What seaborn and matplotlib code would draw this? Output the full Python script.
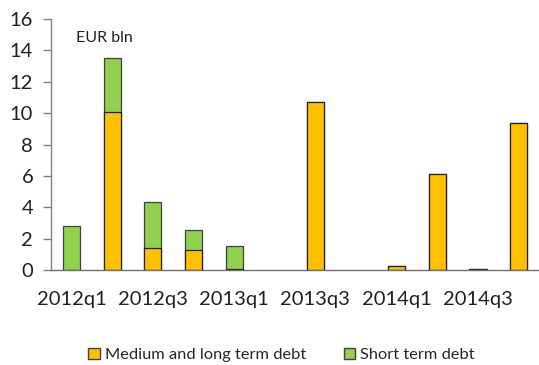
import numpy as np
import pandas as pd
import seaborn as sns
import matplotlib.pyplot as plt
from matplotlib.patches import Patch
from matplotlib.ticker import FixedLocator

# Data (EUR bln)
quarters = ["2012q1", "2012q2", "2012q3", "2012q4",
            "2013q1", "2013q2", "2013q3", "2013q4",
            "2014q1", "2014q2", "2014q3", "2014q4"]
medium_long = [0.0, 10.1, 1.38, 1.27, 0.1, 0.0, 10.7, 0.0, 0.25, 6.15, 0.1, 9.38]
short_term = [2.78, 3.4, 2.95, 1.26, 1.45, 0.0, 0.0, 0.0, 0.0, 0.0, 0.0, 0.0]

df = pd.DataFrame({"quarter": quarters, "medium": medium_long, "short": short_term})
df["total"] = df["medium"] + df["short"]
# empty quarters get no bar at all (no outline on the axis)
df[["medium", "total"]] = df[["medium", "total"]].replace(0, np.nan)

orange = "#FFC000"
green = "#92D050"

sns.set_style("white")
plt.rcParams["font.family"] = ["Lato", "DejaVu Sans"]

fig = plt.figure(figsize=(5.39, 3.65), dpi=100)
ax = fig.add_axes([0.095, 0.26, 0.905, 0.688])

# stacked bars: total (green) underneath, medium/long term (orange) on top of it
sns.barplot(data=df, x="quarter", y="total", order=quarters, color=green,
            width=0.42, edgecolor="#404040", linewidth=0.9, saturation=1, ax=ax)
sns.barplot(data=df, x="quarter", y="medium", order=quarters, color=orange,
            width=0.42, edgecolor="#202020", linewidth=0.9, saturation=1, ax=ax)

ax.set_xlim(-0.5, len(quarters) - 0.5)
ax.set_ylim(0, 16)
ax.set_yticks(range(0, 17, 2))
ax.set_xlabel("")
ax.set_ylabel("")

ax.set_xticks(range(0, len(quarters), 2))
ax.set_xticklabels(quarters[::2])
ax.xaxis.set_minor_locator(FixedLocator([i + 0.5 for i in range(len(quarters) - 1)]))
ax.tick_params(axis="x", which="major", length=0, labelsize=14.5, pad=15, colors="#202020")
ax.tick_params(axis="x", which="minor", direction="in", length=4.5, width=1, color="#202020")
ax.tick_params(axis="y", which="major", direction="out", length=6, width=1, pad=7,
               color="#808080", labelsize=14.5, labelcolor="#202020", left=True)

for s in ["top", "right"]:
    ax.spines[s].set_visible(False)
ax.spines["left"].set_color("#808080")
ax.spines["bottom"].set_color("#707070")
ax.spines["left"].set_linewidth(1)
ax.spines["bottom"].set_linewidth(1)

ax.text(0.05, 0.91, "EUR bln", transform=ax.transAxes, fontsize=11.5, color="#202020")

handles = [Patch(facecolor=orange, edgecolor="#404040", label="Medium and long term debt"),
           Patch(facecolor=green, edgecolor="#404040", label="Short term debt")]
fig.legend(handles=handles, loc="center", bbox_to_anchor=(0.522, 0.027), ncol=2,
           frameon=False, fontsize=11.8, handlelength=0.7, handleheight=0.7,
           handletextpad=0.3, columnspacing=2.3)

plt.savefig("out.png", dpi=100)
plt.close()
